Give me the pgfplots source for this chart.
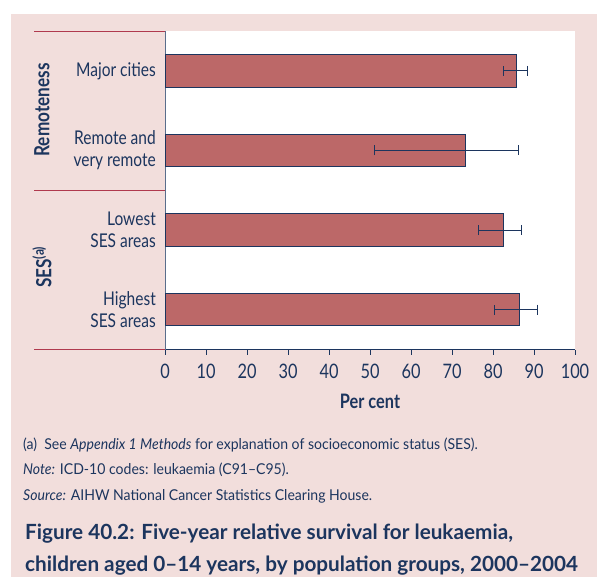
\documentclass[border=0pt]{standalone}
\usepackage{fontspec}
\setmainfont{Lato}[FakeStretch=0.82]
\newfontfamily\titlefont{Lato}[FakeStretch=0.99]
\newfontfamily\notefont{Lato}[FakeStretch=0.94]
\usepackage{pgfplots}
\usepackage{pgfplotstable}
\pgfplotsset{compat=1.18}
\definecolor{navy}{RGB}{28,53,94}
\definecolor{barred}{RGB}{188,104,104}
\definecolor{pinkbg}{RGB}{242,222,220}
\definecolor{sepred}{RGB}{176,58,78}
\definecolor{axisblue}{RGB}{90,110,140}
\pgfplotstableread{
c v ep em
0 85.7 2.7 3.1
1 73.2 13.1 22.0
2 82.5 4.5 6.1
3 86.5 4.3 6.2
}\survival
\begin{document}
\begin{tikzpicture}
\useasboundingbox (0,0) rectangle (597bp,-577bp);
\fill[pinkbg] (11bp,-14bp) rectangle (597bp,-577bp);
\begin{axis}[
  at={(165bp,-349.5bp)}, anchor=south west,
  scale only axis, width=410bp, height=318.5bp,
  xbar, bar width=32.5bp,
  xmin=0, xmax=100, ymin=-0.5, ymax=3.5, y dir=reverse,
  axis background/.style={fill=white},
  axis x line*=bottom, axis y line*=left,
  x axis line style={navy, line width=1pt},
  y axis line style={axisblue, line width=1pt},
  xtick={0,10,...,100}, ytick={0,1,2,3},
  yticklabels={{Major cities},{Remote and\\very remote},{Lowest\\SES areas},{Highest\\SES areas}},
  y tick style={draw=none},
  x tick style={navy, line width=0.8pt},
  tick align=outside, major tick length=5bp,
  /pgf/number format/assume math mode=true,
  xticklabel style={font=\fontsize{20}{22}\selectfont, text=navy, yshift=-6bp},
  yticklabel style={font=\fontsize{19}{22}\selectfont, text=navy, align=right, inner sep=0pt, xshift=-4bp},
  xlabel={\textbf{Per cent}},
  xlabel style={font=\fontsize{20}{22}\selectfont, text=navy, yshift=-9bp},
  clip=false,
]
\addplot[fill=barred, draw=navy, line width=0.9pt,
  error bars/.cd, x dir=both, x explicit,
  error bar style={navy, line width=1pt},
  error mark options={rotate=90, mark size=5bp, line width=1pt, navy}]
  table[x=v, y=c, x error plus=ep, x error minus=em] {\survival};
\end{axis}
\draw[sepred, line width=1pt] (34bp,-31bp) -- (165bp,-31bp);
\draw[sepred, line width=1pt] (34bp,-190bp) -- (165bp,-190bp);
\draw[sepred, line width=1pt] (34bp,-349.5bp) -- (165bp,-349.5bp);
\node[rotate=90, text=navy, font=\fontsize{21}{22}\selectfont\bfseries] at (42bp,-110bp) {Remoteness};
\node[rotate=90, text=navy, font=\fontsize{21}{22}\selectfont\bfseries] at (42bp,-267bp) {SES\textsuperscript{(a)}};
\node[anchor=base west, text=navy, inner sep=0pt, font=\notefont\fontsize{15}{18}\selectfont] at (23bp,-449bp) {(a)\ \ See \textit{Appendix 1 Methods} for explanation of socioeconomic status (SES).};
\node[anchor=base west, text=navy, inner sep=0pt, font=\notefont\fontsize{15}{18}\selectfont] at (23bp,-474bp) {\textit{Note:} ICD-10 codes: leukaemia (C91–C95).};
\node[anchor=base west, text=navy, inner sep=0pt, font=\notefont\fontsize{15}{18}\selectfont] at (23bp,-500bp) {\textit{Source:} AIHW National Cancer Statistics Clearing House.};
\node[anchor=base west, text=navy, inner sep=0pt, font=\titlefont\fontsize{21}{26}\selectfont\bfseries] at (25bp,-539bp) {Figure 40.2: Five-year relative survival for leukaemia,};
\node[anchor=base west, text=navy, inner sep=0pt, font=\titlefont\fontsize{21}{26}\selectfont\bfseries] at (25bp,-571.5bp) {children aged 0–14 years, by population groups, 2000–2004};
\end{tikzpicture}
\end{document}
